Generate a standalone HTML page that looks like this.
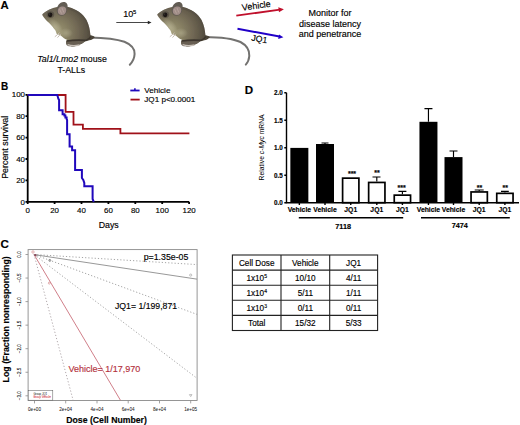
<!DOCTYPE html>
<html><head><meta charset="utf-8">
<style>
html,body{margin:0;padding:0;background:#fff;width:520px;height:425px;overflow:hidden}
svg{display:block}
text{font-family:"Liberation Sans",sans-serif;stroke:#000;stroke-width:0.15px;paint-order:stroke}
text.r{stroke:#b3303c}
text.r2{stroke:#d03040;stroke-width:0.05px}
text.g{stroke:#222;stroke-width:0.03px}
.t text{stroke-width:0.04px}
.ty text{stroke-width:0.08px}
</style></head>
<body>
<svg width="520" height="425" viewBox="0 0 520 425">
<defs>
 <radialGradient id="fur" gradientUnits="userSpaceOnUse" cx="58" cy="32" r="36" fx="56" fy="33">
  <stop offset="0" stop-color="#9f9974"/>
  <stop offset="0.3" stop-color="#888164"/>
  <stop offset="0.6" stop-color="#6f6653"/>
  <stop offset="0.85" stop-color="#575042"/>
  <stop offset="1" stop-color="#474035"/>
 </radialGradient>
 <radialGradient id="chest" cx="0.5" cy="0.5" r="0.5">
  <stop offset="0" stop-color="#bcb798" stop-opacity="0.7"/>
  <stop offset="1" stop-color="#c4c0a4" stop-opacity="0"/>
 </radialGradient>
 <radialGradient id="head" cx="0.5" cy="0.5" r="0.5">
  <stop offset="0" stop-color="#6f6c66" stop-opacity="0.6"/>
  <stop offset="1" stop-color="#6f6c66" stop-opacity="0"/>
 </radialGradient>
 <filter id="soft" x="-10%" y="-10%" width="120%" height="120%"><feGaussianBlur stdDeviation="0.35"/></filter>
 <clipPath id="mclip"><path d="M42.1 14.7 C44.5 11.5 50 9 55 7.5 C60 6 64 5.8 68 7 C76 9 83 13.5 86.5 20 C89 25 90 30 90.4 35.3 L93.3 35.9 L95 37.2 L92.1 39.4 C90.5 40 88.5 40.5 86 40.8 C84 42.6 81 44.6 76 45.9 C74 46.3 72 46.2 70.9 45.9 C68.5 45.7 66.5 45 66.2 43.2 C65.8 41.5 66.5 40.5 67.5 40 C65 39.5 63 37.5 60.4 35.3 C58.5 34.5 57 34.2 56.8 34.1 C56 32 55.6 30.6 55.6 30.6 C53.5 27.5 51 24.5 49.2 22.9 C47 21 44 18.5 42.1 14.7 Z"/></clipPath>
 <g id="mouse">
  <path d="M42.1 14.7 C44.5 11.5 50 9 55 7.5 C60 6 64 5.8 68 7 C76 9 83 13.5 86.5 20 C89 25 90 30 90.4 35.3 L93.3 35.9 L95 37.2 L92.1 39.4 C90.5 40 88.5 40.5 86 40.8 C84 42.6 81 44.6 76 45.9 C74 46.3 72 46.2 70.9 45.9 C68.5 45.7 66.5 45 66.2 43.2 C65.8 41.5 66.5 40.5 67.5 40 C65 39.5 63 37.5 60.4 35.3 C58.5 34.5 57 34.2 56.8 34.1 C56 32 55.6 30.6 55.6 30.6 C53.5 27.5 51 24.5 49.2 22.9 C47 21 44 18.5 42.1 14.7 Z" fill="url(#fur)"/>
  <g clip-path="url(#mclip)"><ellipse cx="50" cy="13" rx="8" ry="6" fill="url(#head)"/>
  <ellipse cx="55" cy="27" rx="6" ry="10" transform="rotate(-38 55 27)" fill="url(#chest)"/>
  <ellipse cx="66" cy="33" rx="7" ry="5" fill="url(#chest)" opacity="0.7"/>
  <path d="M60 6.5 C72 8 82 13 87 21 C89.5 27 90.5 32 90.6 36" fill="none" stroke="#564f42" stroke-width="2.4" opacity="0.6"/></g>
  <path d="M66.3 40.6 C70 40 78 39.8 86 40.3 C84.5 42.5 80.5 44.6 76 45.9 C72 46.9 68.5 46.6 66.8 45.3 C65.9 44 65.9 42.2 66.3 40.6 Z" fill="#675f53"/>
  <path d="M66.8 41 C72 40.2 80 40 86 40.4 C88.5 39.6 90 38.2 90.8 36.5" fill="none" stroke="#3c362d" stroke-width="1.6"/>
  <path d="M67.6 44.6 C70.5 45.7 75 46 79.5 45" fill="none" stroke="#c9c1b9" stroke-width="1.3"/>
  <path d="M56.8 11 C56.5 6.5 59.5 2.3 63.5 2.1 C66.8 2 68 4.5 67.6 8 C67.2 12 65.5 15.5 62 15.8 C58.8 16 57 14 56.8 11 Z" fill="#625b53"/>
  <path d="M57.8 11.2 C57.8 8 60.2 6.6 62.6 6.6 C65 6.6 66.4 8.2 66.2 10.5 C66 13 64.5 15 62 15.1 C59.5 15.2 57.8 13.6 57.8 11.2 Z" fill="#a08d87"/>
  <path d="M59.5 9 L61.5 13.5 M62 8 L63.8 12.5" stroke="#c4b2ac" stroke-width="0.7" opacity="0.8"/>
  <ellipse cx="50.4" cy="14.6" rx="3.8" ry="3.4" fill="#3e382f" opacity="0.45"/>
  <ellipse cx="50.2" cy="14.8" rx="2.2" ry="2.4" fill="#1a1612"/>
  <circle cx="49.2" cy="14" r="0.5" fill="#5a5650"/>
  <path d="M59.6 32.7 L54.8 36.8 M60.8 33.8 L57.5 37.6" stroke="#c6bdb3" stroke-width="1"/>
 </g>
</defs>

<!-- ===== Panel A ===== -->
<text x="0.6" y="9.3" font-size="11.3" font-weight="bold">A</text>
<path d="M89.4 37.4 C100 37.6 114 38 124.4 41.8 C131 44.5 134.8 49 134.6 54 C134.4 58.5 132.5 62 129.8 64.7" fill="none" stroke="#737270" stroke-width="2" stroke-linecap="round"/>
<use href="#mouse" filter="url(#soft)"/>
<path d="M204.8 36.9 C217 37 231 37.6 240.5 42 C247 45.5 249.6 51 249.3 56 C249 59.5 247.8 62.5 245.8 64.6" fill="none" stroke="#737270" stroke-width="2" stroke-linecap="round"/>
<use href="#mouse" transform="translate(115 0)" filter="url(#soft)"/>

<text x="37.3" y="61.9" font-size="8.8"><tspan font-style="italic">Tal1/Lmo2</tspan> mouse</text>
<text x="57.4" y="72.5" font-size="8.8">T-ALLs</text>

<line x1="116.3" y1="22.5" x2="148.5" y2="22.5" stroke="#333" stroke-width="0.9"/>
<path d="M147.8 20.8 L151.5 22.5 L147.8 24.2 Z" fill="#222"/>
<text x="123.3" y="17.3" font-size="9">10</text>
<text x="133.1" y="14.2" font-size="5.8">5</text>

<line x1="236.3" y1="15.6" x2="280" y2="9.6" stroke="#c0102c" stroke-width="1.9"/>
<path d="M278.3 7.3 L283.9 9.2 L279 12.2 Z" fill="#c0102c"/>
<text font-size="9" transform="translate(242.3 10.8) rotate(-8)">Vehicle</text>
<line x1="237.5" y1="28.8" x2="279.5" y2="36.5" stroke="#2000c8" stroke-width="1.9"/>
<path d="M279 34.4 L283.4 37.3 L278.2 39 Z" fill="#2000c8"/>
<text font-size="8.7" transform="translate(251 40.6) rotate(10)">JQ1</text>

<text font-size="9" text-anchor="middle"><tspan x="330.1" y="15.85">Monitor for</tspan><tspan x="330.1" y="26.55">disease latency</tspan><tspan x="330.1" y="37.25">and penetrance</tspan></text>

<!-- ===== Panel B ===== -->
<text x="1" y="89.7" font-size="10" font-weight="bold">B</text>
<g stroke="#000" stroke-width="1.8" fill="none">
 <path d="M27.7 94.8 V201.9 H189.3"/>
 <path d="M25.5 94.8 H27.7 M25.5 116.2 H27.7 M25.5 137.6 H27.7 M25.5 159 H27.7 M25.5 180.4 H27.7 M25.5 201.9 H27.7"/>
 <path d="M27.7 201.9 V204 M54.6 201.9 V204 M81.5 201.9 V204 M108.4 201.9 V204 M135.3 201.9 V204 M162.2 201.9 V204 M189.1 201.9 V204"/>
</g>
<g font-size="7.9" text-anchor="end">
 <text x="25" y="97.4">100</text><text x="25" y="118.8">80</text><text x="25" y="140.2">60</text><text x="25" y="161.6">40</text><text x="25" y="183">20</text><text x="25" y="204.5">0</text>
</g>
<g font-size="7.9" text-anchor="middle">
 <text x="27.7" y="212.8">0</text><text x="54.6" y="212.8">20</text><text x="81.5" y="212.8">40</text><text x="108.4" y="212.8">60</text><text x="135.3" y="212.8">80</text><text x="162.2" y="212.8">100</text><text x="189.1" y="212.8">120</text>
</g>
<text x="108.7" y="228.3" font-size="8.8" text-anchor="middle">Days</text>
<text font-size="8.9" text-anchor="middle" transform="translate(7.5 147.3) rotate(-90)">Percent survival</text>
<path d="M27.7 95 H65.6 V111.8 H73.5 V124.7 H82.9 V128.8 H120.4 V133.4 H189.4" fill="none" stroke="#a01119" stroke-width="1.8"/>
<path d="M27.7 95 H57.3 L58.3 98.5 L59.1 100 V110.2 H62.6 V114.2 H64.4 V115.5 H65.4 V117.5 H66.6 V119 L67.1 120 V134.3 H69.6 V146.5 H72.1 V150.2 H75.1 V169.9 H81.9 V178 L83.3 180 L84.3 183 V186.2 H92.6 V199 L93.8 201.8" fill="none" stroke="#2008bc" stroke-width="2"/>
<line x1="130.3" y1="90.5" x2="139.6" y2="90.5" stroke="#2008bc" stroke-width="1.8"/>
<line x1="134.9" y1="88.2" x2="134.9" y2="90.5" stroke="#2008bc" stroke-width="1.6"/>
<line x1="130.5" y1="99.6" x2="139.7" y2="99.6" stroke="#a01119" stroke-width="1.8"/>
<text x="144.3" y="93.4" font-size="8.1">Vehicle</text>
<text x="144.3" y="102.1" font-size="8.1">JQ1 p&lt;0.0001</text>

<!-- ===== Panel D ===== -->
<text x="244.7" y="93.9" font-size="11.6" font-weight="bold">D</text>
<text class="g" font-size="6.75" text-anchor="middle" transform="translate(263.5 147.4) rotate(-90)">Relative <tspan font-style="italic">c-Myc</tspan> mRNA</text>
<g stroke="#000" stroke-width="1.4" fill="none">
 <path d="M286.5 92.8 V202.7 H519"/>
 <path d="M284.3 92.8 H286.5 M284.3 120.3 H286.5 M284.3 147.8 H286.5 M284.3 175.3 H286.5 M284.3 202.7 H286.5"/>
 <path d="M299.35 202.7 V205 M325.00 202.7 V205 M350.75 202.7 V205 M376.80 202.7 V205 M402.40 202.7 V205 M428.45 202.7 V205 M453.50 202.7 V205 M479.20 202.7 V205 M504.90 202.7 V205"/>
</g>
<g font-size="6.3" font-weight="bold" text-anchor="end">
 <text x="282.8" y="95">2.0</text><text x="282.8" y="122.5">1.5</text><text x="282.8" y="150">1.0</text><text x="282.8" y="177.5">0.5</text><text x="282.8" y="205">0.0</text>
</g>
<!-- bars -->
<g fill="#000">
 <rect x="290.35" y="147.90" width="18" height="54.80"/>
 <rect x="316.00" y="144.00" width="18" height="58.70"/>
 <rect x="419.45" y="121.80" width="18" height="80.90"/>
 <rect x="444.50" y="157.10" width="18" height="45.60"/>
</g>
<g fill="#fff" stroke="#000" stroke-width="1.7">
 <rect x="342.60" y="178.15" width="16.3" height="24.55"/>
 <rect x="368.65" y="182.45" width="16.3" height="20.25"/>
 <rect x="394.25" y="195.15" width="16.3" height="7.55"/>
 <rect x="471.05" y="191.95" width="16.3" height="10.75"/>
 <rect x="496.75" y="193.35" width="16.3" height="9.35"/>
</g>
<g stroke="#000" stroke-width="1.15" fill="none">
 <path d="M325.00 144.00 V143.00 M321.50 143.00 H328.50"/>
 <path d="M376.80 181.60 V177.00 M372.50 177.00 H380.50"/>
 <path d="M402.40 194.30 V191.40 M398.40 191.40 H406.40"/>
 <path d="M428.45 121.80 V108.60 M424.45 108.60 H432.45"/>
 <path d="M453.50 157.10 V151.00 M449.50 151.00 H457.50"/>
 <path d="M479.20 191.10 V190.00 M474.70 190.00 H483.70"/>
 <path d="M504.90 192.50 V191.30 M501.00 191.30 H508.80"/>
</g>
<g font-size="7" font-weight="bold" text-anchor="middle">
 <text x="352.00" y="175.80">***</text>
 <text x="377.10" y="175.40">**</text>
 <text x="401.70" y="189.95">***</text>
 <text x="479.55" y="189.55">**</text>
 <text x="505.25" y="190.05">**</text>
</g>
<g font-size="6.8" font-weight="bold" text-anchor="middle">
 <text x="299.35" y="211.9">Vehicle</text>
 <text x="325.00" y="211.9">Vehicle</text>
 <text x="350.75" y="211.9">JQ1</text>
 <text x="376.80" y="211.9">JQ1</text>
 <text x="402.40" y="211.9">JQ1</text>
 <text x="428.45" y="211.9">Vehicle</text>
 <text x="453.50" y="211.9">Vehicle</text>
 <text x="479.20" y="211.9">JQ1</text>
 <text x="504.90" y="211.9">JQ1</text>
</g>
<line x1="298.8" y1="217.7" x2="403.2" y2="217.7" stroke="#000" stroke-width="1.6"/>
<line x1="421" y1="217.7" x2="509.8" y2="217.7" stroke="#000" stroke-width="1.6"/>
<text x="343.2" y="228.6" font-size="7.25" font-weight="bold" text-anchor="middle">7118</text>
<text x="459.7" y="228.4" font-size="7.25" font-weight="bold" text-anchor="middle">7474</text>

<!-- ===== Panel C ===== -->
<text x="0.5" y="247.8" font-size="11.6" font-weight="bold">C</text>
<text font-size="8.85" font-weight="bold" text-anchor="middle" transform="translate(9 319.4) rotate(-90)">Log (Fraction nonresponding)</text>
<rect x="28.1" y="249.6" width="169" height="150.9" fill="none" stroke="#8a8a8a" stroke-width="0.9"/>
<g stroke="#8a8a8a" stroke-width="0.8">
 <path d="M25.5 254.5 H28.1 M25.5 278.05 H28.1 M25.5 301.6 H28.1 M25.5 325.15 H28.1 M25.5 348.7 H28.1 M25.5 372.25 H28.1 M25.5 395.8 H28.1"/>
 <path d="M34.5 400.5 V403.4 M65.7 400.5 V403.4 M97 400.5 V403.4 M128.2 400.5 V403.4 M159.5 400.5 V403.4 M190.7 400.5 V403.4"/>
</g>
<g class="ty" font-size="4.5" fill="#000" text-anchor="middle">
 <text transform="translate(21.2 254.5) rotate(-90)">0.0</text>
 <text transform="translate(21.2 278.05) rotate(-90)">&#8722;0.5</text>
 <text transform="translate(21.2 301.6) rotate(-90)">&#8722;1.0</text>
 <text transform="translate(21.2 325.15) rotate(-90)">&#8722;1.5</text>
 <text transform="translate(21.2 348.7) rotate(-90)">&#8722;2.0</text>
 <text transform="translate(21.2 372.25) rotate(-90)">&#8722;2.5</text>
 <text transform="translate(21.2 395.8) rotate(-90)">&#8722;3.0</text>
</g>
<g class="t" font-size="4.6" fill="#222" text-anchor="middle">
 <text x="34.5" y="411.2">0e+00</text><text x="65.7" y="411.2">2e+04</text><text x="97" y="411.2">4e+04</text><text x="128.2" y="411.2">6e+04</text><text x="159.5" y="411.2">8e+04</text><text x="190.7" y="411.2">1e+05</text>
</g>
<text x="106.6" y="422.7" font-size="8.7" font-weight="bold" text-anchor="middle">Dose (Cell Number)</text>
<svg x="28.1" y="249.6" width="169" height="150.9" viewBox="28.1 249.6 169 150.9" overflow="hidden">
 <g fill="none" stroke-width="0.9">
  <line x1="34" y1="254.5" x2="197.3" y2="264.6" stroke="#9a9a9a" stroke-dasharray="1.2 2"/>
  <line x1="34" y1="254.6" x2="197.3" y2="279.2" stroke="#8c8c8c"/>
  <line x1="34" y1="254.5" x2="197.3" y2="314.5" stroke="#9a9a9a" stroke-dasharray="1.2 2"/>
  <line x1="34" y1="254.5" x2="197.3" y2="378.5" stroke="#9a9a9a" stroke-dasharray="1.2 2"/>
  <line x1="34" y1="254.5" x2="120.6" y2="400.5" stroke="#c86874" stroke-width="0.85"/>
  <line x1="34" y1="254.5" x2="73.2" y2="400.5" stroke="#a89ea2" stroke-dasharray="1.2 2"/>
 </g>
 <circle cx="33" cy="252" r="1.2" fill="none" stroke="#d08080" stroke-width="0.6"/>
 <circle cx="35.4" cy="255.1" r="1.2" fill="#8a4a5a"/>
 <circle cx="49.8" cy="260.4" r="1" fill="none" stroke="#555" stroke-width="0.6"/>
 <circle cx="49.3" cy="283.1" r="1" fill="none" stroke="#d08080" stroke-width="0.6"/>
 <circle cx="190.7" cy="275.1" r="1.1" fill="none" stroke="#999" stroke-width="0.6"/>
 <path d="M189.4 394.6 L192 394.6 L190.7 396.6 Z" fill="none" stroke="#999" stroke-width="0.6"/>
</svg>
<text x="188.4" y="260.4" font-size="8.8" text-anchor="end">p=1.35e-05</text>
<text x="115" y="309" font-size="8.7">JQ1= 1/199,871</text>
<text class="r" x="68.5" y="372.1" font-size="9" fill="#b3303c">Vehicle= 1/17,970</text>
<rect x="28.2" y="390.4" width="24.6" height="9.8" fill="#fff" stroke="#555" stroke-width="0.5"/>
<text class="g" x="33.4" y="394.7" font-size="2.8" fill="#222">Group JQ1</text>
<text class="r2" x="33.2" y="398.1" font-size="2.8" fill="#d03040">Group Vehicle</text>

<!-- table -->
<g stroke="#222" stroke-width="1.1" fill="none">
 <rect x="232.4" y="255" width="145.2" height="75.5"/>
 <path d="M281 255 V330.5 M329.7 255 V330.5"/>
 <path d="M232.4 270.1 H377.6 M232.4 285.2 H377.6 M232.4 300.3 H377.6 M232.4 315.4 H377.6"/>
</g>
<g font-size="8.2" text-anchor="middle">
 <text x="256.7" y="265.7">Cell Dose</text><text x="305.3" y="265.7">Vehicle</text><text x="353.6" y="265.7">JQ1</text>
 <text x="256.7" y="280.8">1x10<tspan font-size="5" dy="-2.6">5</tspan></text><text x="305.3" y="280.8">10/10</text><text x="353.6" y="280.8">4/11</text>
 <text x="256.7" y="295.9">1x10<tspan font-size="5" dy="-2.6">4</tspan></text><text x="305.3" y="295.9">5/11</text><text x="353.6" y="295.9">1/11</text>
 <text x="256.7" y="311.0">1x10<tspan font-size="5" dy="-2.6">3</tspan></text><text x="305.3" y="311.0">0/11</text><text x="353.6" y="311.0">0/11</text>
 <text x="256.7" y="326.1">Total</text><text x="305.3" y="326.1">15/32</text><text x="353.6" y="326.1">5/33</text>
</g>
</svg>
</body></html>
